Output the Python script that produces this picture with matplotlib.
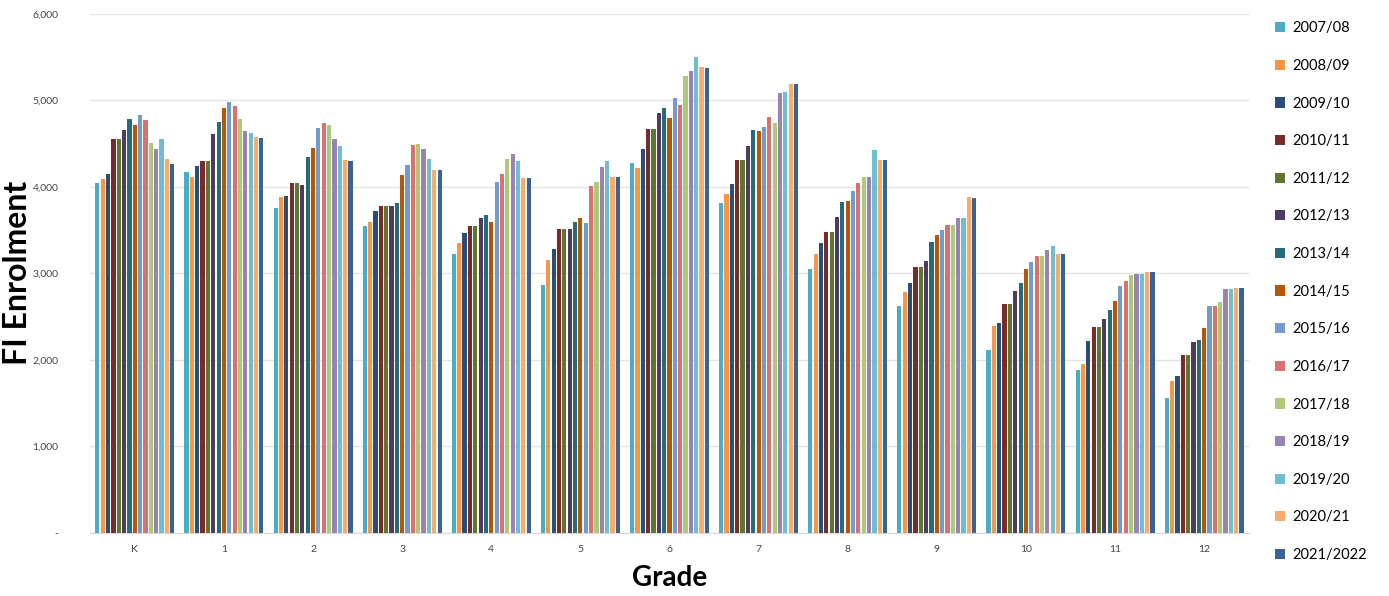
import matplotlib
matplotlib.use("Agg")
from matplotlib import pyplot as plt
from matplotlib.ticker import FuncFormatter
import numpy as np

plt.rcParams['font.family'] = ['Lato', 'DejaVu Sans']

grades = ["K", "1", "2", "3", "4", "5", "6", "7", "8", "9", "10", "11", "12"]
years = ["2007/08", "2008/09", "2009/10", "2010/11", "2011/12", "2012/13", "2013/14",
         "2014/15", "2015/16", "2016/17", "2017/18", "2018/19", "2019/20", "2020/21",
         "2021/2022"]

# enrolment per grade, one row per grade, one column per school year
enrol_K  = [4045, 4093, 4143, 4556, 4556, 4656, 4780, 4718, 4834, 4768, 4510, 4432, 4556, 4316, 4258]
enrol_1  = [4174, 4108, 4235, 4297, 4297, 4606, 4753, 4911, 4985, 4939, 4780, 4645, 4621, 4579, 4568]
enrol_2  = [3760, 3876, 3896, 4038, 4038, 4015, 4348, 4452, 4684, 4742, 4714, 4548, 4467, 4305, 4301]
enrol_3  = [3548, 3594, 3722, 3783, 3783, 3775, 3810, 4134, 4250, 4479, 4490, 4440, 4324, 4197, 4189]
enrol_4  = [3224, 3355, 3470, 3548, 3548, 3644, 3671, 3594, 4050, 4146, 4324, 4378, 4293, 4096, 4096]
enrol_5  = [2864, 3154, 3281, 3509, 3509, 3509, 3594, 3636, 3586, 4011, 4050, 4227, 4297, 4111, 4111]
enrol_6  = [4274, 4220, 4440, 4664, 4664, 4849, 4907, 4800, 5023, 4942, 5275, 5336, 5495, 5386, 5374]
enrol_7  = [3810, 3911, 4035, 4308, 4308, 4467, 4656, 4641, 4695, 4803, 4733, 5081, 5096, 5185, 5185]
enrol_8  = [3053, 3219, 3347, 3474, 3474, 3656, 3826, 3838, 3949, 4038, 4111, 4116, 4424, 4308, 4308]
enrol_9  = [2625, 2787, 2888, 3068, 3068, 3143, 3363, 3444, 3497, 3563, 3555, 3641, 3636, 3880, 3873]
enrol_10 = [2118, 2385, 2420, 2644, 2644, 2798, 2891, 3045, 3127, 3196, 3204, 3266, 3320, 3227, 3227]
enrol_11 = [1887, 1956, 2215, 2381, 2381, 2470, 2570, 2679, 2856, 2911, 2976, 2995, 2995, 3011, 3011]
enrol_12 = [1555, 1759, 1817, 2053, 2053, 2207, 2231, 2362, 2617, 2617, 2667, 2822, 2822, 2833, 2833]

colors = ["#4BACC6", "#F79646", "#2C4D75", "#772C2A", "#5F7530", "#4D3B62", "#276A7C",
          "#B65708", "#729ACA", "#D9716E", "#AFC97A", "#9983B5", "#6FBDD1", "#F9AB6B",
          "#3A6296"]

data = np.array([enrol_K, enrol_1, enrol_2, enrol_3, enrol_4, enrol_5, enrol_6, enrol_7,
                 enrol_8, enrol_9, enrol_10, enrol_11, enrol_12])

fig = plt.figure(figsize=(13.89, 5.96), dpi=100)
ax = fig.add_axes([0.065, 0.106, 0.834, 0.871])

x = np.arange(len(grades))
n = len(years)
step = 0.9 / n
for i in range(n):
    ax.bar(x - 0.45 + step * (i + 0.5), data[:, i], width=step * 0.78,
           color=colors[i], label=years[i], zorder=3)

ax.set_xlim(-0.5, len(grades) - 0.5)
ax.set_ylim(0, 6000)
ax.set_yticks(np.arange(0, 6001, 1000))
ax.yaxis.set_major_formatter(FuncFormatter(lambda v, p: "-" if v == 0 else f"{int(v):,}"))
ax.set_xticks(x)
ax.set_xticklabels(grades)
ax.tick_params(axis='both', length=0, labelsize=7.5, colors="#444444")
ax.tick_params(axis='x', pad=9)
ax.tick_params(axis='y', pad=23)
ax.grid(axis='y', color="#e3e3e3", linewidth=1, zorder=0)
for s in ["top", "right", "left"]:
    ax.spines[s].set_visible(False)
ax.spines["bottom"].set_color("#d9d9d9")

ax.set_ylabel("FI Enrolment", fontsize=23, fontweight='bold')
ax.yaxis.set_label_coords(-0.05, 0.5)
ax.set_xlabel("Grade", fontsize=20, fontweight='bold', labelpad=8)

ax.legend(loc="upper left", bbox_to_anchor=(1.014, 1.005), frameon=False, fontsize=10.5,
          handlelength=0.7, handleheight=0.7, handletextpad=0.5, labelspacing=1.62,
          borderaxespad=0.3)

fig.savefig("out.png", dpi=100)
